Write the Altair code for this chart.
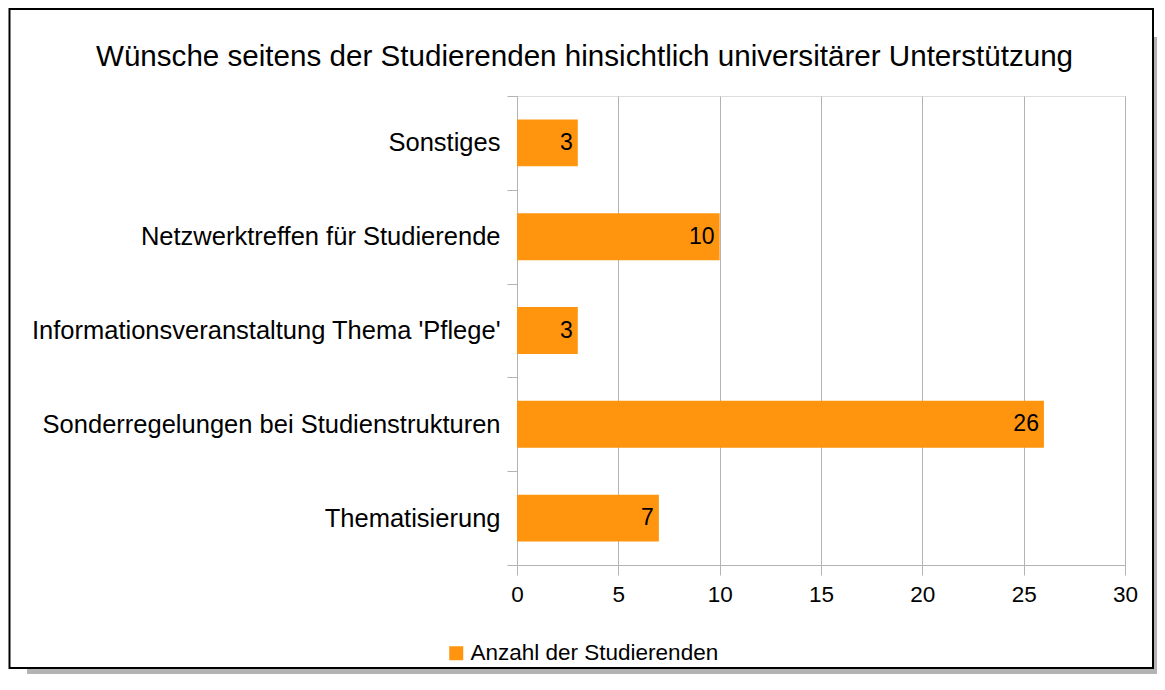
import altair as alt
import pandas as pd

title_text = "Wünsche seitens der Studierenden hinsichtlich universitärer Unterstützung"
categories = [
    "Sonstiges",
    "Netzwerktreffen für Studierende",
    "Informationsveranstaltung Thema 'Pflege'",
    "Sonderregelungen bei Studienstrukturen",
    "Thematisierung",
]
values = [3, 10, 3, 26, 7]
series_name = "Anzahl der Studierenden"
x_ticks = [0, 5, 10, 15, 20, 25, 30]

df = pd.DataFrame({"cat": categories, "val": values, "series": [series_name] * len(values)})
one = pd.DataFrame({"t": [title_text]})

W, H = 608, 469
GRID = "#b3b3b3"
ORANGE = "#ff950e"
FONT = "Liberation Sans"

y_enc = alt.Y("cat:N", sort=categories, title=None,
              scale=alt.Scale(paddingInner=0, paddingOuter=0),
              axis=alt.Axis(tickBand="extent", tickSize=10, tickColor=GRID,
                            domainColor=GRID, labelFontSize=25.5, labelColor="black",
                            labelPadding=7, labelFont=FONT, labelLimit=700))
x_enc = alt.X("val:Q", title=None,
              scale=alt.Scale(domain=[0, 30], nice=False),
              axis=alt.Axis(values=x_ticks, tickSize=10, tickColor=GRID, domainColor=GRID,
                            gridColor=GRID, labelFontSize=22.5, labelColor="black",
                            labelPadding=8, labelFont=FONT, labelFlush=False))

bars = alt.Chart(df).mark_bar(height={"band": 0.5}).encode(
    y=y_enc,
    x=x_enc,
    color=alt.Color("series:N", scale=alt.Scale(range=[ORANGE]),
                    legend=alt.Legend(title=None, orient="none", legendX=-72, legendY=546,
                                      symbolType="square", symbolSize=196, symbolOffset=0,
                                      labelFontSize=22.5, labelFont=FONT, labelColor="black",
                                      labelLimit=500, labelOffset=3,
                                      symbolStrokeWidth=0)),
)

labels = alt.Chart(df).mark_text(align="right", baseline="middle", dx=-5,
                                 fontSize=23, font=FONT, color="black").encode(
    y=alt.Y("cat:N", sort=categories),
    x=alt.X("val:Q"),
    text=alt.Text("val:Q"),
)

# decorative frame, shadow and title (pixel offsets relative to the plot area)
shadow_right = alt.Chart(one).mark_rect(color=GRID).encode(
    x=alt.value(636), x2=alt.value(640), y=alt.value(-59), y2=alt.value(578))
shadow_bottom = alt.Chart(one).mark_rect(color=GRID).encode(
    x=alt.value(-490), x2=alt.value(640), y=alt.value(572), y2=alt.value(578))
frame = alt.Chart(one).mark_rect(fill="white", fillOpacity=0, stroke="black", strokeWidth=2).encode(
    x=alt.value(-507.5), x2=alt.value(636), y=alt.value(-87), y2=alt.value(572))
title = alt.Chart(one).mark_text(align="center", baseline="alphabetic", fontSize=29.6,
                                 font=FONT, color="black").encode(
    x=alt.value(67.5), y=alt.value(-30), text="t:N")

chart = alt.layer(shadow_right, shadow_bottom, frame, title, bars, labels).properties(
    width=W, height=H,
    autosize=alt.AutoSizeParams(type="none"),
    padding={"left": 509, "top": 88, "right": 32, "bottom": 109},
).configure_view(stroke=GRID).configure(background="white")

chart.save("out.html", embed_options={"renderer": "svg", "actions": False})
